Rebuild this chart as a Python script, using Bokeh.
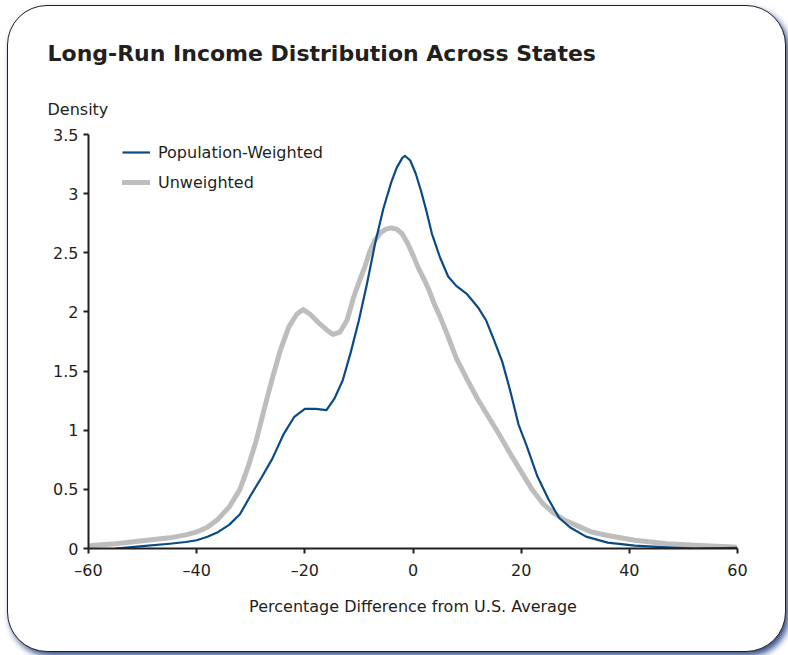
from bokeh.plotting import figure
from bokeh.models import Range1d, FixedTicker, Title, Legend, LegendItem
from bokeh.embed import file_html
from bokeh.resources import INLINE

# ---- data ----
x_weighted = [-55, -50, -45, -42, -40, -38, -36, -34, -32, -30, -28, -26, -24, -22,
              -20, -18, -16, -14.5, -13, -11.5, -10, -8.5, -7, -5.5, -4, -3, -2, -1.5,
              -0.5, 0.5, 1.5, 2.5, 3.5, 5, 6.5, 8, 10, 12, 13.5, 15, 16.5, 18, 19.5,
              21, 23, 25, 27, 29, 32, 36, 41, 47, 52, 60]
d_weighted = [0.0, 0.02, 0.04, 0.055, 0.07, 0.10, 0.14, 0.20, 0.29, 0.45, 0.60, 0.76, 0.96, 1.11,
              1.18, 1.18, 1.17, 1.27, 1.42, 1.66, 1.93, 2.24, 2.58, 2.87, 3.10, 3.22, 3.30, 3.32,
              3.28, 3.17, 3.02, 2.85, 2.66, 2.46, 2.30, 2.22, 2.15, 2.04, 1.93, 1.76, 1.58, 1.33, 1.05,
              0.87, 0.61, 0.42, 0.26, 0.18, 0.10, 0.05, 0.025, 0.01, 0.0, 0.005]

x_unweighted = [-59.5, -55, -50, -45, -42, -40, -38, -36, -34, -32, -30.5, -29, -27.5, -26,
                -24.5, -23, -21.5, -20.3, -19, -17.5, -16, -14.8, -13.5, -12.2, -11, -10, -9,
                -8, -7, -6, -5, -4, -3, -2, -1, 0, 1, 2, 3, 4, 5, 6.5, 8, 10, 12, 14, 16, 18,
                20, 22, 24, 26, 28, 30, 33, 36, 41, 47, 53, 59.5]
d_unweighted = [0.025, 0.04, 0.065, 0.09, 0.115, 0.14, 0.18, 0.25, 0.35, 0.50, 0.69, 0.91, 1.18, 1.44,
                1.68, 1.87, 1.98, 2.02, 1.98, 1.91, 1.85, 1.81, 1.83, 1.93, 2.12, 2.25, 2.37,
                2.51, 2.61, 2.67, 2.70, 2.71, 2.70, 2.66, 2.58, 2.48, 2.37, 2.28, 2.18, 2.06, 1.96, 1.79, 1.61, 1.43, 1.26, 1.11, 0.96, 0.80,
                0.65, 0.50, 0.38, 0.30, 0.24, 0.20, 0.14, 0.11, 0.07, 0.04, 0.025, 0.012]

series_names = ["Population-Weighted", "Unweighted"]
x_ticks = [-60, -40, -20, 0, 20, 40, 60]
x_tick_labels = ["\u201360", "\u201340", "\u201320", "0", "20", "40", "60"]
y_ticks = [0, 0.5, 1, 1.5, 2, 2.5, 3, 3.5]
y_tick_labels = ["0", "0.5", "1", "1.5", "2", "2.5", "3", "3.5"]

title_text = "Long-Run Income Distribution Across States"
y_label = "Density"
x_label = "Percentage Difference from U.S. Average"

FONT = "DejaVu Sans"
INK = "#231f20"
BLUE = "#0a4a85"
GRAY = "#bdbdbd"

p = figure(width=779, height=647, output_backend="svg", toolbar_location=None,
           x_range=Range1d(-60, 60), y_range=Range1d(0, 3.5),
           min_border_left=80, min_border_right=50, min_border_top=128, min_border_bottom=105,
           title=title_text)
p.margin = (5, 0, 0, 7)

p.styles = {"border": "1.5px solid #231f20", "border-radius": "40px",
            "box-shadow": "3px 4px 6px #35518f", "background-color": "white",
            "box-sizing": "border-box"}
p.border_fill_color = None
p.background_fill_color = "white"
p.outline_line_color = None
p.xgrid.visible = False
p.ygrid.visible = False

p.title.text_font = FONT
p.title.text_font_size = "22px"
p.title.text_font_style = "bold"
p.title.text_color = INK
p.title.align = "left"
p.title.offset = -41
p.title.standoff = 33

dens = Title(text=y_label, text_font=FONT, text_font_size="16px", text_font_style="normal",
             text_color=INK, align="left", offset=-41, standoff=31)
p.add_layout(dens, "above")

r_uw = p.line(x_unweighted, d_unweighted, line_color=GRAY, line_width=5,
              line_join="round", line_cap="round")
r_w = p.line(x_weighted, d_weighted, line_color=BLUE, line_width=2.2, line_join="round")

legend = Legend(items=[LegendItem(label=series_names[0], renderers=[r_w]),
                       LegendItem(label=series_names[1], renderers=[r_uw])],
                location=(34, 356))
legend.border_line_color = None
legend.background_fill_alpha = 0
legend.padding = 0
legend.margin = 0
legend.spacing = 10
legend.glyph_width = 28
legend.glyph_height = 20
legend.label_height = 20
legend.label_standoff = 8
legend.label_text_font = FONT
legend.label_text_font_size = "16px"
legend.label_text_color = INK
p.add_layout(legend)

for ax in (p.xaxis[0], p.yaxis[0]):
    ax.axis_line_width = 2
    ax.axis_line_color = INK
    ax.major_tick_line_width = 2
    ax.major_tick_line_color = INK
    ax.major_tick_out = 5
    ax.major_tick_in = 0
    ax.minor_tick_out = 0
    ax.minor_tick_in = 0
    ax.major_label_text_font = FONT
    ax.major_label_text_font_size = "16px"
    ax.major_label_text_color = INK

p.xaxis.ticker = FixedTicker(ticks=x_ticks)
p.xaxis.major_label_overrides = dict(zip(x_ticks, x_tick_labels))
p.xaxis.major_label_standoff = 7
p.xaxis.axis_label = x_label
p.xaxis.axis_label_text_font = FONT
p.xaxis.axis_label_text_font_size = "16px"
p.xaxis.axis_label_text_font_style = "normal"
p.xaxis.axis_label_text_color = INK
p.xaxis.axis_label_standoff = 14

p.yaxis.ticker = FixedTicker(ticks=y_ticks)
p.yaxis.major_label_overrides = dict(zip(y_ticks, y_tick_labels))
p.yaxis.major_label_standoff = 5

open("out.html", "w").write(file_html(p, INLINE))
